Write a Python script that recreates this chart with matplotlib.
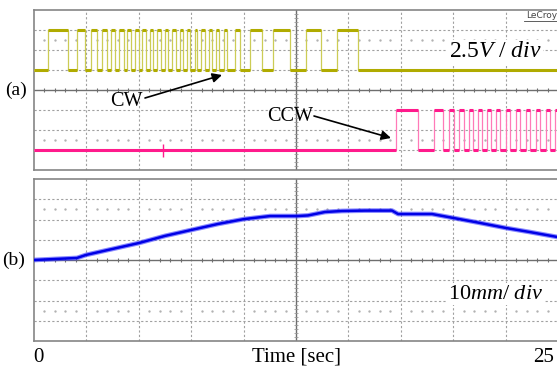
"""Oscilloscope capture: CW / CCW pulse trains and stage position."""

import matplotlib

matplotlib.use("Agg")
import matplotlib.pyplot as plt
import numpy as np

plt.rcParams["font.family"] = ["Liberation Serif", "DejaVu Serif"]
plt.rcParams["mathtext.fontset"] = "custom"
plt.rcParams["mathtext.rm"] = "Liberation Serif"
plt.rcParams["mathtext.it"] = "Liberation Serif:italic"

# time base: 10 divisions over 25 s
T_END = 25.0

# CW pulse edges (s), trace levels in divisions
cw_rise = [0.67, 2.05, 2.72, 3.24, 3.67, 4.06, 4.44, 4.82, 5.15, 5.53, 5.87, 6.25, 6.58,
           6.97, 7.30, 7.68, 7.97, 8.35, 8.68, 9.06, 9.59, 10.31, 11.40, 12.98, 14.46]
cw_fall = [1.62, 2.43, 3.01, 3.48, 3.86, 4.29, 4.63, 5.01, 5.34, 5.68, 6.06, 6.39, 6.78,
           7.11, 7.44, 7.78, 8.16, 8.49, 8.83, 9.21, 9.83, 10.88, 12.21, 13.69, 15.46]
cw_low, cw_high = 1.0, 3.0

# CCW pulse edges (s)
ccw_rise = [17.27, 19.08, 19.80, 20.28, 20.75, 21.18, 21.61, 22.04, 22.52, 23.00,
            23.47, 23.95, 24.43, 24.86]
ccw_fall = [18.32, 19.51, 20.04, 20.52, 20.95, 21.37, 21.80, 22.23, 22.71, 23.19,
            23.66, 24.14, 24.62, 25.10]
ccw_low, ccw_high = -3.0, -1.0
ccw_spike_t = 6.15
ccw_spike = (-3.35, -2.7)

# stage position (divisions, 10 mm/div)
pos_t = [0.0, 1.00, 2.05, 2.48, 3.72, 5.01, 6.25, 7.49, 8.78, 10.02, 11.26, 12.55, 13.07,
         13.88, 14.69, 15.79, 17.08, 17.37, 18.99, 20.04, 21.28, 22.52, 23.66, 24.95]
pos_div = [0.0, 0.05, 0.10, 0.25, 0.54, 0.84, 1.19, 1.48, 1.78, 2.02, 2.17, 2.17, 2.20,
           2.37, 2.42, 2.44, 2.44, 2.27, 2.27, 2.07, 1.83, 1.58, 1.38, 1.14]

W, H = 557, 367
GRID = "#a0a0a0"
AXIS = "#6e6e6e"


def pulse_train(rises, falls, low, high):
    t, v = [0.0], [low]
    for r, f in zip(rises, falls):
        t += [r, r, f, f]
        v += [low, high, high, low]
    t.append(T_END)
    v.append(low)
    return t, v


def draw_pulses(ax, rises, falls, low, high, edge_color, level_color):
    t, v = pulse_train(rises, falls, low, high)
    ax.plot(t, v, color=edge_color, lw=0.9, zorder=3)
    # thick noisy-looking flat levels
    ax.hlines([high] * len(rises), rises, falls, color=level_color, lw=2.2, zorder=3)
    lo_start = [0.0] + list(falls)
    lo_end = list(rises) + [T_END]
    ax.hlines([low] * len(lo_start), lo_start, lo_end, color=level_color, lw=2.2, zorder=3)


def px(x, y):
    return x / W, 1 - y / H


def scope_axes(fig, top, bottom):
    ax = fig.add_axes([34 / W, 1 - bottom / H, 524 / W, (bottom - top) / H])
    ax.set_xlim(0, T_END)
    ax.set_ylim(-4, 4)
    ax.set_xticks([])
    ax.set_yticks([])
    for s in ax.spines.values():
        s.set_color("#858585")
        s.set_linewidth(1.2)
    for x in np.arange(2.5, T_END, 2.5):
        if abs(x - 12.5) > 1e-6:
            ax.axvline(x, color=GRID, lw=0.8, ls=(0, (2, 2)), zorder=1)
    for y in range(-3, 4):
        if y != 0:
            ax.axhline(y, color=GRID, lw=0.8, ls=(0, (2, 2)), zorder=1)
    ax.axhline(0, color=AXIS, lw=1.0, zorder=1)
    ax.axvline(12.5, color=AXIS, lw=1.0, zorder=1)
    minor_x = [x for x in np.arange(0.5, T_END, 0.5) if abs(x / 2.5 - round(x / 2.5)) > 1e-6]
    ax.vlines(minor_x, -0.09, 0.09, color=AXIS, lw=0.8, zorder=1)
    minor_y = [y for y in np.arange(-3.8, 4.0, 0.2) if abs(y - round(y)) > 1e-6]
    ax.hlines(minor_y, 12.5 - 0.1, 12.5 + 0.1, color="#9a9a9a", lw=0.6, zorder=1)
    for yd in (2.5, -2.5):
        ax.plot(minor_x, [yd] * len(minor_x), ls="none", marker="o", ms=0.7,
                color="#b0b0b0", zorder=1)
    return ax


fig = plt.figure(figsize=(W / 100, H / 100), dpi=100)

# --- Panel (a): CW / CCW command pulses
ax_a = scope_axes(fig, 10, 170)
draw_pulses(ax_a, cw_rise, cw_fall, cw_low, cw_high, "#cccc55", "#b0ab00")
draw_pulses(ax_a, ccw_rise, ccw_fall, ccw_low, ccw_high, "#ff7ab8", "#ff1a8c")
ax_a.vlines(ccw_spike_t, *ccw_spike, color="#ff1a8c", lw=1.0, zorder=3)
ax_a.text(0.88, 0.74, r"$\mathrm{2.5}V\ /\ div$", transform=ax_a.transAxes, fontsize=17,
          ha="center", va="center", zorder=4,
          bbox=dict(facecolor="white", edgecolor="none", pad=1.0))

# --- Panel (b): position
ax_b = scope_axes(fig, 179, 341)
ax_b.plot(pos_t, pos_div, color="#3a3aff", lw=3.4, alpha=0.6, zorder=3)
ax_b.plot(pos_t, pos_div, color="#0000e6", lw=1.8, zorder=3)
ax_b.text(0.88, 0.29, r"$\mathrm{10}mm/\ div$", transform=ax_b.transAxes, fontsize=16,
          ha="center", va="center", zorder=4,
          bbox=dict(facecolor="white", edgecolor="none", pad=1.0))

# labels and annotations in figure pixels
fig.text(*px(16, 90), "(a)", fontsize=14, ha="center", va="center")
fig.text(*px(14, 260), "(b)", fontsize=14, ha="center", va="center")
fig.text(*px(38, 357), "0", fontsize=15, ha="center", va="center")
fig.text(*px(296, 357), "Time [sec]", fontsize=15, ha="center", va="center")
fig.text(*px(544, 357), "25", fontsize=15, ha="center", va="center")
fig.text(*px(557, 15), "LeCroy", fontsize=6.5, ha="right", va="center",
         family="DejaVu Sans", color="#444444")
fig.add_artist(plt.Line2D([524 / W, 1.0], [1 - 21 / H] * 2, color="#444444", lw=0.6))

fig.text(*px(126, 101), "CW", fontsize=14.5, ha="center", va="center")
fig.text(*px(290, 117), "CCW", fontsize=14.5, ha="center", va="center")
arrow = dict(arrowstyle="-|>", color="black", lw=1.2, mutation_scale=14,
             shrinkA=0, shrinkB=0)
fig.add_artist(matplotlib.patches.FancyArrowPatch(px(145, 98), px(222, 75),
                                                  transform=fig.transFigure, **arrow))
fig.add_artist(matplotlib.patches.FancyArrowPatch(px(314, 116), px(391, 138),
                                                  transform=fig.transFigure, **arrow))

fig.savefig("out.png", dpi=100)
